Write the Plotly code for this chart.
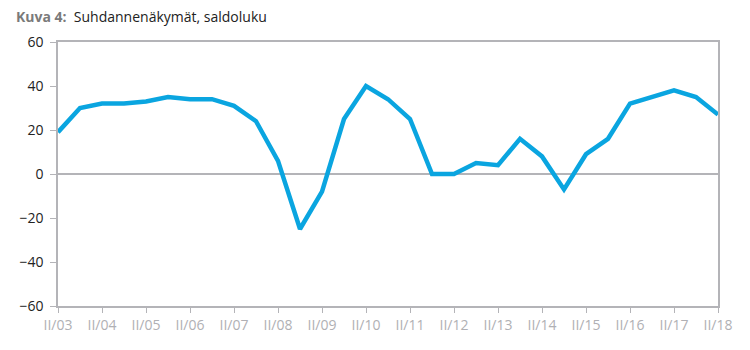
import plotly.graph_objects as go

periods = list(range(31))
values = [19, 30, 32, 32, 33, 35, 34, 34, 31, 24, 6, -25, -8, 25, 40, 34, 25, 0, 0, 5, 4, 16, 8, -7, 9, 16, 32, 35, 38, 35, 27]
tick_positions = list(range(0, 31, 2))
tick_labels = ["II/%02d" % y for y in range(3, 19)]

fig = go.Figure()
fig.add_trace(go.Scatter(x=periods, y=values, mode="lines",
                         line=dict(color="#0AA5E0", width=4.5), hoverinfo="skip"))

fig.update_layout(
    width=750, height=350,
    margin=dict(l=58, r=32, t=42, b=44),
    paper_bgcolor="white", plot_bgcolor="white",
    showlegend=False,
    font=dict(family="Open Sans", size=14, color="#222"),
)
fig.add_annotation(xref="paper", yref="paper", x=(14 - 58) / 660, y=1 + 25 / 264,
                   xanchor="left", yanchor="middle", showarrow=False,
                   text="<b><span style='color:#7a7a7a'>Kuva 4:</span></b>  Suhdannenäkymät, saldoluku",
                   font=dict(family="Open Sans", size=14, color="#222"))

fig.update_xaxes(range=[0, 30], tickvals=tick_positions, ticktext=tick_labels,
                 showgrid=False, zeroline=False, showline=True, linecolor="#b4b4b8",
                 linewidth=1.5, mirror=True, ticks="outside", ticklen=5, tickcolor="#b4b4b8",
                 tickfont=dict(color="#b0b0b4", size=14))
fig.update_yaxes(range=[-60, 60], tickvals=[-60, -40, -20, 0, 20, 40, 60],
                 showgrid=False, zeroline=True, zerolinecolor="#b4b4b8", zerolinewidth=1.5,
                 showline=True, linecolor="#b4b4b8", linewidth=1.5, mirror=True,
                 ticks="outside", ticklen=6, tickcolor="#b4b4b8",
                 tickfont=dict(color="#222", size=14), ticklabelstandoff=4)

fig.write_html("out.html")
